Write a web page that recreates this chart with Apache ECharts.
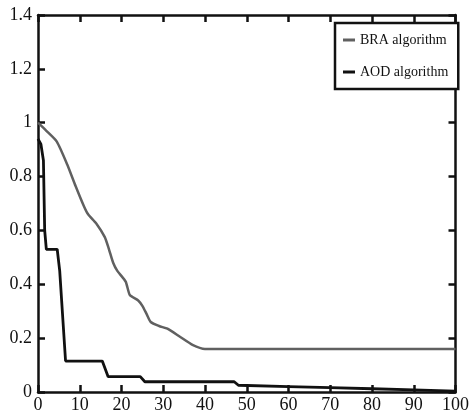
<!DOCTYPE html>
<html>
<head>
<meta charset="utf-8">
<script src="https://cdn.jsdelivr.net/npm/echarts@6/dist/echarts.min.js"></script>
<style>
html, body { margin: 0; padding: 0; background: #fff; }
#main { width: 472px; height: 415px; }
</style>
</head>
<body>
<div id="main"></div>
<script>
var xTicks = [0, 10, 20, 30, 40, 50, 60, 70, 80, 90, 100];
var yTicks = [0, 0.2, 0.4, 0.6, 0.8, 1, 1.2, 1.4];

var braX = [0, 2, 4.5, 7, 9, 11, 12, 14, 16, 17, 18, 19, 21, 22, 24, 25, 26, 27, 29, 31, 34, 37, 40, 100];
var braY = [1.0, 0.97, 0.93, 0.845, 0.765, 0.69, 0.66, 0.625, 0.575, 0.53, 0.48, 0.45, 0.41, 0.36, 0.34, 0.32, 0.29, 0.26, 0.245, 0.235, 0.205, 0.175, 0.16, 0.16];

var aodX = [0, 0.7, 1.3, 1.6, 2, 4.6, 5.2, 6.6, 15.4, 16.8, 24.5, 25.6, 47, 48, 60, 70, 80, 90, 100];
var aodY = [0.94, 0.92, 0.86, 0.6, 0.53, 0.53, 0.45, 0.115, 0.115, 0.057, 0.057, 0.038, 0.038, 0.025, 0.02, 0.016, 0.012, 0.008, 0.003];

function zip(xs, ys) {
    var out = [];
    for (var i = 0; i < xs.length; i++) out.push([xs[i], ys[i]]);
    return out;
}

// ticks point into the plot, on all four sides
function ticks() {
    return { show: true, inside: true, length: 7, lineStyle: { color: '#111', width: 2.5 } };
}

window.onload = function () {
    var myChart = echarts.init(document.getElementById('main'));
    var font = 'Liberation Serif';
    var lineStyle = { color: '#111', width: 2.5 };

    var option = {
        animation: false,
        grid: { left: 38, right: 10, top: 15, bottom: 23 },
        legend: {
            orient: 'vertical',
            left: 335,
            top: 23,
            padding: [10, 10, 10, 8],
            itemGap: 18,
            itemWidth: 12,
            itemHeight: 3,
            icon: 'rect',
            borderColor: '#111',
            borderWidth: 2.5,
            backgroundColor: '#fff',
            textStyle: { fontFamily: font, fontSize: 14, color: '#111' },
            data: ['BRA algorithm', 'AOD algorithm']
        },
        xAxis: [{
            type: 'value',
            min: xTicks[0],
            max: xTicks[xTicks.length - 1],
            interval: 10,
            axisLine: { onZero: false, lineStyle: lineStyle },
            axisTick: ticks(),
            splitLine: { show: false },
            axisLabel: { fontFamily: font, fontSize: 18, color: '#111', margin: 4 }
        }, {
            type: 'value',
            position: 'top',
            min: xTicks[0],
            max: xTicks[xTicks.length - 1],
            interval: 10,
            axisLine: { onZero: false, lineStyle: lineStyle },
            axisTick: ticks(),
            splitLine: { show: false },
            axisLabel: { show: false }
        }],
        yAxis: [{
            type: 'value',
            min: yTicks[0],
            max: yTicks[yTicks.length - 1],
            interval: 0.2,
            axisLine: { onZero: false, lineStyle: lineStyle },
            axisTick: ticks(),
            splitLine: { show: false },
            axisLabel: { fontFamily: font, fontSize: 18, color: '#111', margin: 6 }
        }, {
            type: 'value',
            position: 'right',
            min: yTicks[0],
            max: yTicks[yTicks.length - 1],
            interval: 0.2,
            axisLine: { onZero: false, lineStyle: lineStyle },
            axisTick: ticks(),
            splitLine: { show: false },
            axisLabel: { show: false }
        }],
        series: [{
            name: 'BRA algorithm',
            type: 'line',
            showSymbol: false,
            smooth: 0.2,
            color: '#606060',
            lineStyle: { color: '#606060', width: 2.5 },
            data: zip(braX, braY)
        }, {
            name: 'AOD algorithm',
            type: 'line',
            showSymbol: false,
            color: '#111',
            lineStyle: { color: '#111', width: 2.8 },
            data: zip(aodX, aodY)
        }]
    };
    myChart.setOption(option);
};
</script>
</body>
</html>
